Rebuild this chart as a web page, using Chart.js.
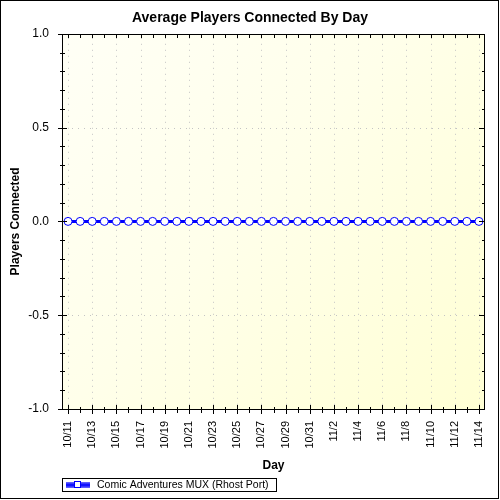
<!DOCTYPE html>
<html><head><meta charset="utf-8">
<script src="https://cdn.jsdelivr.net/npm/chart.js@4.4.1/dist/chart.umd.min.js"></script>
<style>html,body{margin:0;padding:0;background:#fff}#wrap{width:500px;height:500px}</style>
</head><body><div id="wrap"><canvas id="c" width="500" height="500"></canvas></div>
<script>
const days = ['10/11','10/12','10/13','10/14','10/15','10/16','10/17','10/18','10/19','10/20',
  '10/21','10/22','10/23','10/24','10/25','10/26','10/27','10/28','10/29','10/30','10/31',
  '11/1','11/2','11/3','11/4','11/5','11/6','11/7','11/8','11/9','11/10','11/11','11/12','11/13','11/14'];
const players = [0,0,0,0,0,0,0,0,0,0,0,0,0,0,0,0,0,0,0,0,0,0,0,0,0,0,0,0,0,0,0,0,0,0,0];
const yMajorTicks = [-1.0,-0.5,0.0,0.5,1.0];
const seriesName = 'Comic Adventures MUX (Rhost Port)';
const chartTitle = 'Average Players Connected By Day';
const xTitle = 'Day';
const yTitle = 'Players Connected';

const FONT = "Arial, 'Liberation Sans', sans-serif";
Chart.defaults.font.family = FONT;
Chart.defaults.color = '#000';

const chrome = {
  id: 'chrome',
  beforeDraw(chart) {
    const {ctx, chartArea: a} = chart;
    ctx.save();
    ctx.fillStyle = '#fff';
    ctx.fillRect(0, 0, chart.width, chart.height);
    const g = ctx.createLinearGradient(a.left, a.top, a.right, a.bottom);
    g.addColorStop(0, '#fffff6');
    g.addColorStop(0.45, '#ffffea');
    g.addColorStop(1, '#ffffd4');
    ctx.fillStyle = g;
    ctx.fillRect(a.left, a.top, a.right - a.left, a.bottom - a.top);
    ctx.restore();
  },
  beforeDatasetsDraw(chart) {
    const {ctx, chartArea: a, scales} = chart;
    const xs = scales.x, ys = scales.y;
    ctx.save();
    ctx.strokeStyle = '#c4c4c4';
    ctx.lineWidth = 1;
    ctx.setLineDash([1, 5]);
    days.forEach((d, i) => {
      if (i % 2) return;
      const x = Math.round(xs.getPixelForValue(i)) + 0.5;
      ctx.beginPath(); ctx.moveTo(x, a.top + 4); ctx.lineTo(x, a.bottom); ctx.stroke();
    });
    yMajorTicks.forEach(v => {
      const y = Math.round(ys.getPixelForValue(v)) + 0.5;
      ctx.beginPath(); ctx.moveTo(a.left + 4, y); ctx.lineTo(a.right, y); ctx.stroke();
    });
    ctx.restore();
  },
  afterDraw(chart) {
    const {ctx, chartArea: a, scales} = chart;
    const xs = scales.x, ys = scales.y;
    const L = Math.round(a.left), R = Math.round(a.right) - 1, T = Math.round(a.top), B = Math.round(a.bottom);
    ctx.save();
    ctx.fillStyle = '#000';
    ctx.fillRect(L, T, R - L + 1, 1);
    ctx.fillRect(L, B, R - L + 1, 1);
    ctx.fillRect(L, T, 1, B - T + 1);
    ctx.fillRect(R, T, 1, B - T + 1);
    for (let k = -10; k <= 10; k++) {
      const y = Math.round(ys.getPixelForValue(k / 10));
      if (k % 5 === 0) { ctx.fillRect(L - 4, y, 9, 1); ctx.fillRect(R - 5, y, 6, 1); }
      else { ctx.fillRect(L - 2, y, 5, 1); ctx.fillRect(R - 2, y, 3, 1); }
    }
    days.forEach((d, i) => {
      const x = Math.round(xs.getPixelForValue(i));
      ctx.fillRect(x, T + 1, 1, 3);
      if (i % 2 === 0) ctx.fillRect(x, B - 4, 1, 9);
      else ctx.fillRect(x, B - 2, 1, 6);
    });
    const lx = L, ly = 478;
    ctx.fillStyle = '#fff';
    ctx.fillRect(lx, ly, 214, 13);
    ctx.strokeStyle = '#000';
    ctx.lineWidth = 1;
    ctx.strokeRect(lx + 0.5, ly + 0.5, 214, 13);
    const lg = ctx.createLinearGradient(0, ly + 4, 0, ly + 10);
    lg.addColorStop(0, '#7070ff');
    lg.addColorStop(0.5, '#0000ff');
    lg.addColorStop(1, '#7070ff');
    ctx.fillStyle = lg;
    ctx.fillRect(lx + 4, ly + 4, 24, 6);
    ctx.fillStyle = '#fff';
    ctx.fillRect(lx + 12, ly + 3, 7, 7);
    ctx.strokeStyle = '#0000ff';
    ctx.strokeRect(lx + 12.5, ly + 3.5, 6, 6);
    ctx.fillStyle = '#000';
    ctx.font = '10.5px ' + FONT;
    ctx.textBaseline = 'middle';
    ctx.textAlign = 'left';
    ctx.fillText(chart.data.datasets[0].label, lx + 35, ly + 7.5);
    ctx.fillStyle = '#000';
    ctx.fillRect(0, 0, 499, 1);
    ctx.fillRect(0, 498, 499, 1);
    ctx.fillRect(0, 0, 1, 499);
    ctx.fillRect(498, 0, 1, 499);
    ctx.restore();
  }
};

new Chart(document.getElementById('c'), {
  type: 'line',
  data: {
    labels: days,
    datasets: [{
      label: seriesName,
      data: players,
      borderColor: '#0000ff',
      borderWidth: 3,
      pointRadius: 4,
      pointBorderWidth: 1,
      pointBackgroundColor: '#ffffff',
      pointBorderColor: '#0000ff',
      tension: 0,
      clip: false
    }]
  },
  options: {
    responsive: false,
    animation: false,
    devicePixelRatio: 1,
    layout: { padding: 0 },
    plugins: {
      legend: { display: false },
      tooltip: { enabled: false },
      title: {
        display: true,
        text: chartTitle,
        color: '#000',
        font: { family: FONT, size: 14, weight: 'bold' },
        padding: { top: 10, bottom: 7 }
      }
    },
    scales: {
      x: {
        type: 'category',
        offset: true,
        grid: { display: false, drawTicks: false },
        border: { display: false },
        ticks: {
          autoSkip: false, minRotation: 90, maxRotation: 90, padding: 12,
          color: '#000', font: { family: FONT, size: 11 },
          callback: (v, i) => (i % 2 === 0 ? days[i] : '')
        },
        title: {
          display: true, text: xTitle, color: '#000',
          font: { family: FONT, size: 12, weight: 'bold' },
          padding: { top: 0, bottom: 27 }
        },
        afterFit: s => { s.height = 91; s.paddingLeft = 0; s.paddingRight = 0; }
      },
      y: {
        min: -1, max: 1,
        grid: { display: false, drawTicks: false },
        border: { display: false },
        ticks: {
          stepSize: 0.5, padding: 13, color: '#000',
          font: { family: FONT, size: 12 },
          callback: v => Number(v).toFixed(1)
        },
        title: {
          display: true, text: yTitle, color: '#000',
          font: { family: FONT, size: 12, weight: 'bold' },
          padding: { top: 8, bottom: 0 }
        },
        afterFit: s => { s.width = 62; }
      },
      y2: {
        position: 'right',
        display: true,
        grid: { display: false, drawTicks: false },
        border: { display: false },
        ticks: { display: false },
        afterFit: s => { s.width = 15; }
      }
    }
  },
  plugins: [chrome]
});
</script>
</body></html>
